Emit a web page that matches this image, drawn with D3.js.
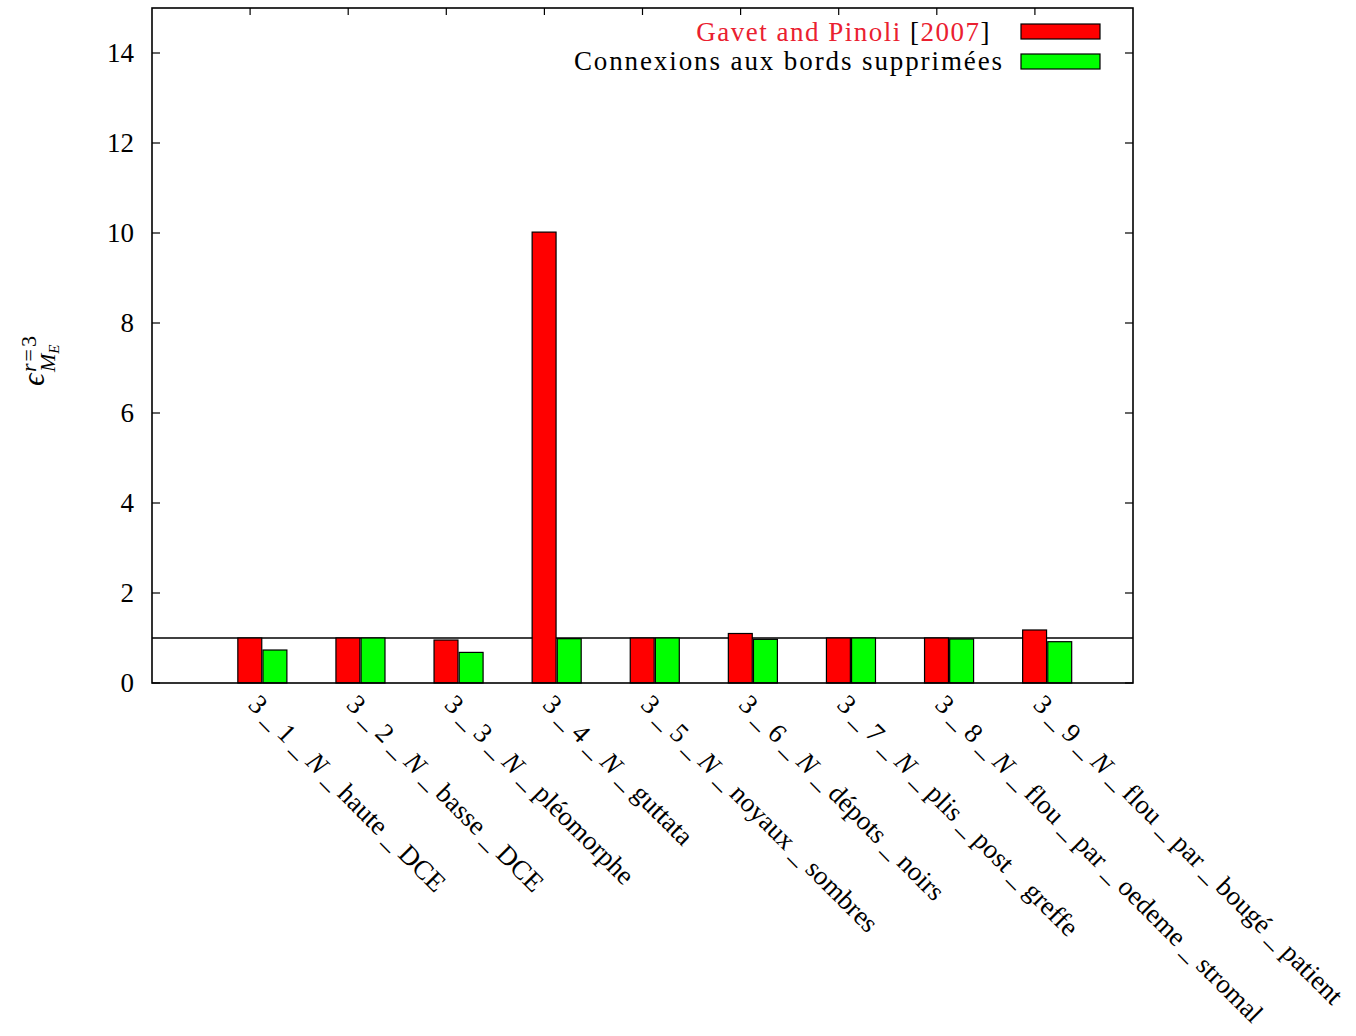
<!DOCTYPE html>
<html>
<head>
<meta charset="utf-8">
<script src="https://cdn.jsdelivr.net/npm/d3@7"></script>
<style>
  html, body { margin: 0; padding: 0; background: #fff; }
  svg { display: block; }
  text { font-family: "Liberation Serif", "DejaVu Serif", serif; fill: #000; }
</style>
</head>
<body>
<svg id="chart" width="1356" height="1036"></svg>
<script>
// ---- data ----
const categories = [
  "3_1_N_haute_DCE",
  "3_2_N_basse_DCE",
  "3_3_N_pléomorphe",
  "3_4_N_guttata",
  "3_5_N_noyaux_sombres",
  "3_6_N_dépots_noirs",
  "3_7_N_plis_post_greffe",
  "3_8_N_flou_par_oedeme_stromal",
  "3_9_N_flou_par_bougé_patient"
];
const gavetPinoli = [1.0, 1.0, 0.955, 10.02, 1.0, 1.10, 1.0, 1.0, 1.178];
const connexionsSupprimees = [0.733, 1.0, 0.68, 0.985, 1.0, 0.97, 1.0, 0.978, 0.918];
const seriesNames = ["Gavet and Pinoli [2007]", "Connexions aux bords supprimées"];
const seriesColors = ["#ff0000", "#00ff00"];
const yTicks = [0, 2, 4, 6, 8, 10, 12, 14];
const yDomain = [0, 15];
const referenceLevel = 1;

// ---- layout ----
const svg = d3.select("#chart");
const L = 152, R = 1133, T = 8, B = 683;
const x = d3.scaleLinear().domain([-1, 9]).range([L, R]);
const y = d3.scaleLinear().domain(yDomain).range([B, T]);
const bw = 0.25;

// reference line at y = 1
svg.append("line")
  .attr("x1", L).attr("x2", R)
  .attr("y1", y(referenceLevel)).attr("y2", y(referenceLevel))
  .attr("stroke", "#000").attr("stroke-width", 1.6);

// x ticks (bottom, hidden under bars, and top mirror)
const xt = d3.range(categories.length);
svg.selectAll(".xtb").data(xt).enter().append("line")
  .attr("x1", d => x(d)).attr("x2", d => x(d))
  .attr("y1", B).attr("y2", B - 7)
  .attr("stroke", "#000").attr("stroke-width", 1.2);
svg.selectAll(".xtt").data(xt).enter().append("line")
  .attr("x1", d => x(d)).attr("x2", d => x(d))
  .attr("y1", T).attr("y2", T + 7)
  .attr("stroke", "#000").attr("stroke-width", 1.2);

// bars
const series = [gavetPinoli, connexionsSupprimees];
series.forEach((vals, s) => {
  svg.selectAll(".bar" + s).data(vals).enter().append("rect")
    .attr("x", (d, i) => x(i - bw / 2 + s * bw) + (s ? 0.6 : 0))
    .attr("width", (d, i) => x(i + bw / 2 + s * bw) - x(i - bw / 2 + s * bw) - 0.6)
    .attr("y", d => y(d))
    .attr("height", d => y(0) - y(d))
    .attr("fill", seriesColors[s])
    .attr("stroke", "#000")
    .attr("stroke-width", 1.2);
});

// y axis ticks (left and right mirror)
yTicks.forEach(v => {
  svg.append("line").attr("x1", L).attr("x2", L + 8)
    .attr("y1", y(v)).attr("y2", y(v)).attr("stroke", "#000").attr("stroke-width", 1.2);
  svg.append("line").attr("x1", R).attr("x2", R - 8)
    .attr("y1", y(v)).attr("y2", y(v)).attr("stroke", "#000").attr("stroke-width", 1.2);
});
svg.selectAll(".ylab").data(yTicks).enter().append("text")
  .attr("x", 134).attr("y", d => y(d) + 9)
  .attr("text-anchor", "end")
  .attr("font-size", 27)
  .text(d => d);

// border
svg.append("rect").attr("x", L).attr("y", T).attr("width", R - L).attr("height", B - T)
  .attr("fill", "none").attr("stroke", "#000").attr("stroke-width", 1.6);

// category labels, rotated 45deg
categories.forEach((c, i) => {
  const t = svg.append("text")
    .attr("transform", `translate(${x(i) - 3},706) rotate(45)`)
    .attr("font-size", 27);
  const parts = c.split("_");
  parts.forEach((p, k) => {
    if (k > 0) t.append("tspan").text(" _ ");
    const ts = t.append("tspan").text(p);
    if (p === "N") ts.attr("font-style", "italic");
  });
});

// y-axis label: epsilon^{r=3}_{M_E}
const yl = svg.append("text")
  .attr("transform", "translate(44,386) rotate(-90)")
  .attr("font-size", 31);
yl.append("tspan").attr("font-style", "italic").text("ϵ");
yl.append("tspan").attr("x", 14).attr("dy", -8).attr("font-size", 22).attr("font-style", "italic").attr("letter-spacing", 2).text("r");
yl.append("tspan").attr("font-size", 22).attr("letter-spacing", 2).text("=3");
yl.append("tspan").attr("x", 14).attr("dy", 19).attr("font-size", 22).attr("font-style", "italic").text("M");
yl.append("tspan").attr("dy", 4).attr("font-size", 15).attr("font-style", "italic").text("E");

// legend
const legRed = "#ea2030";
const l1 = svg.append("text").attr("x", 991).attr("y", 41)
  .attr("text-anchor", "end").attr("font-size", 27).attr("letter-spacing", 1.5);
l1.append("tspan").attr("fill", legRed).text("Gavet and Pinoli ");
l1.append("tspan").text("[");
l1.append("tspan").attr("fill", legRed).text("2007");
l1.append("tspan").text("]");
svg.append("text").attr("x", 1004).attr("y", 70)
  .attr("text-anchor", "end").attr("font-size", 27).attr("letter-spacing", 1.9)
  .text(seriesNames[1]);
seriesColors.forEach((col, s) => {
  svg.append("rect").attr("x", 1021).attr("y", 24 + s * 30)
    .attr("width", 79).attr("height", 15)
    .attr("fill", col).attr("stroke", "#000").attr("stroke-width", 1.2);
});
</script>
</body>
</html>
